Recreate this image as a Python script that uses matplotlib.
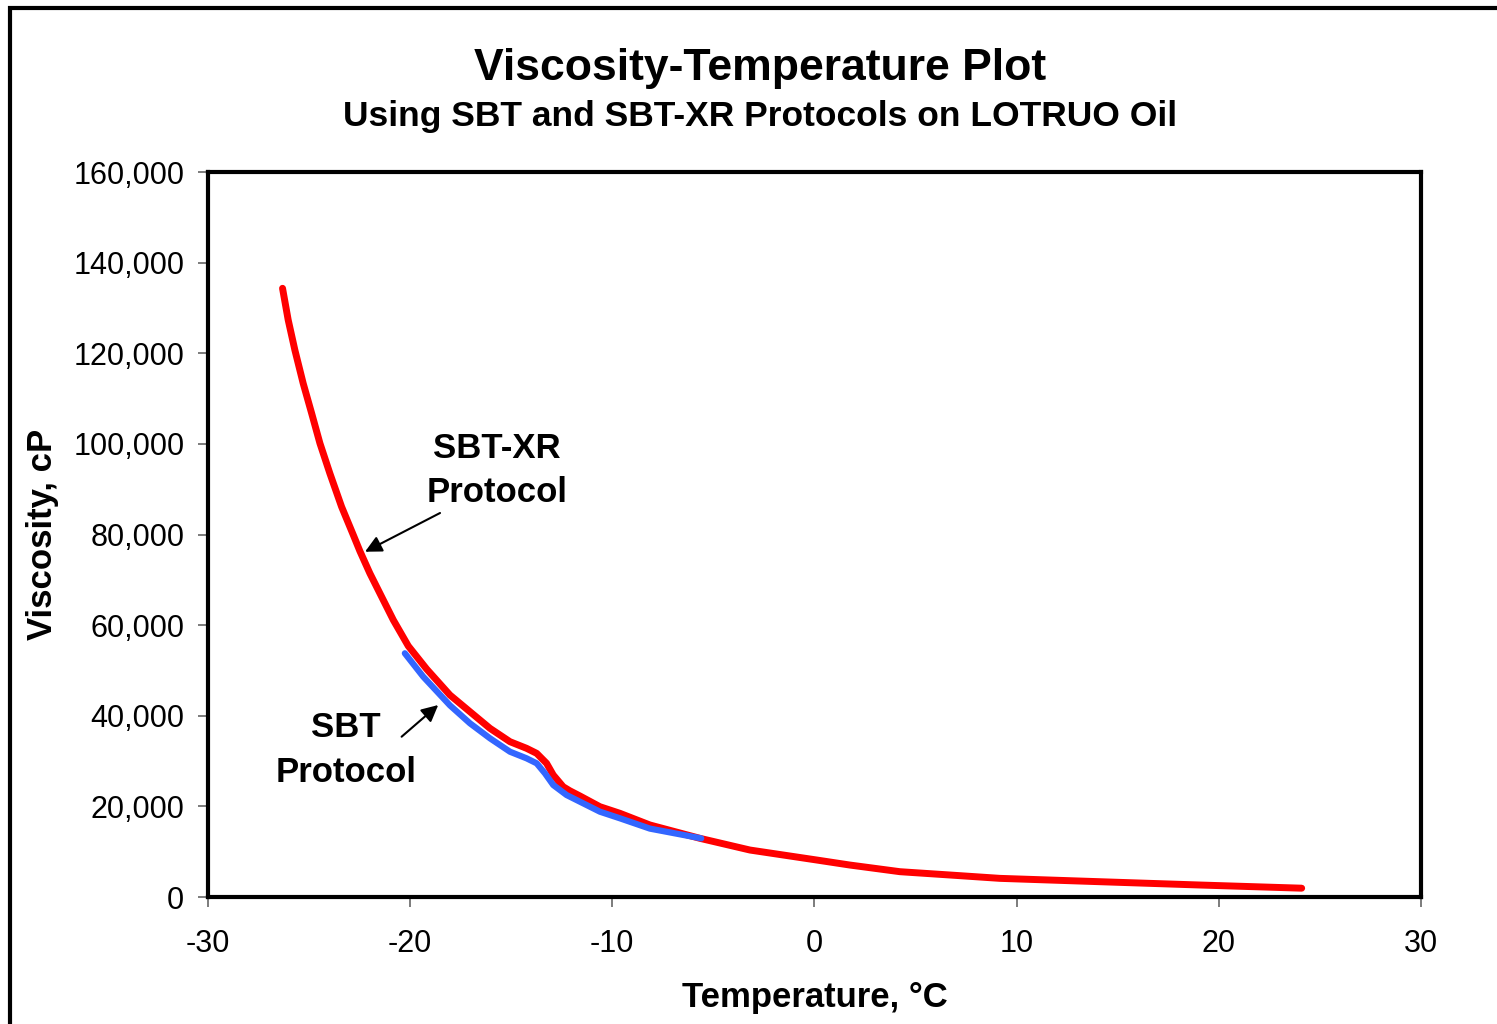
import matplotlib.pyplot as plt
from matplotlib.ticker import FuncFormatter
from matplotlib.lines import Line2D

plt.rcParams['font.family'] = ['Liberation Sans', 'DejaVu Sans']
plt.rcParams['axes.unicode_minus'] = False

# SBT-XR protocol curve (red)
xr_temp = [-26.31, -26.03, -25.70, -25.29, -24.87, -24.46, -23.97, -23.39, -22.81,
           -22.48, -21.99, -21.41, -20.83, -20.09, -19.18, -18.03, -17.04, -16.05,
           -15.06, -14.24, -13.74, -13.25, -12.92, -12.43, -12.1, -11.60, -10.61,
           -9.62, -8.14, -5.66, -3.19, 0.11, 1.75, 4.23, 6.70, 9.17, 14.12, 19.07,
           24.1]
xr_visc = [134340, 127350, 120720, 113380, 106750, 100130, 93510, 86140, 79900,
           76300, 71440, 66280, 61130, 55400, 50300, 44580, 40900, 37230,
           34280, 32820, 31710, 29510, 26930, 24340, 23450, 22300, 19930,
           18470, 15900, 12950, 10370, 8170, 7060, 5590, 4860, 4120, 3380, 2650,
           1950]

# SBT protocol curve (blue)
sbt_temp = [-20.26, -19.35, -18.03, -17.04, -16.05, -15.06, -14.24,
            -13.74, -13.33, -12.92, -12.26, -10.61, -9.62, -8.14, -5.6]
sbt_visc = [53790, 48620, 42300, 38340, 35030, 32070, 30610,
            29510, 27300, 24720, 22510, 18830, 17370, 15100, 12950]

x_ticks = [-30, -20, -10, 0, 10, 20, 30]
y_ticks = [0, 20000, 40000, 60000, 80000, 100000, 120000, 140000, 160000]

fig = plt.figure(figsize=(14.97, 10.24), dpi=100)
ax = fig.add_axes([0.1389, 0.124, 0.8103, 0.708])

ax.plot(xr_temp, xr_visc, color='#FF0000', lw=5, solid_capstyle='round',
        solid_joinstyle='round', zorder=2)
ax.plot(sbt_temp, sbt_visc, color='#3366FF', lw=4.5, solid_capstyle='round',
        solid_joinstyle='round', zorder=3)

ax.set_xlim(-30, 30)
ax.set_ylim(0, 160000)
ax.set_xticks(x_ticks)
ax.set_yticks(y_ticks)
ax.yaxis.set_major_formatter(FuncFormatter(lambda v, p: f"{int(v):,}"))
ax.tick_params(direction='out', length=7, width=1.2, color='#666666',
               labelsize=22, pad=10)
ax.tick_params(axis='x', pad=16)
for s in ax.spines.values():
    s.set_linewidth(3)

ax.set_xlabel('Temperature, °C', fontsize=25, fontweight='bold', labelpad=16)
ax.set_ylabel('Viscosity, cP', fontsize=25, fontweight='bold', labelpad=10)

# annotations
arrow = dict(arrowstyle='-|>', color='black', lw=1.5, mutation_scale=25,
             shrinkA=0, shrinkB=0)
ax.text(-15.7, 94130, 'SBT-XR\nProtocol', ha='center', va='center',
        fontsize=25, fontweight='bold', linespacing=1.46)
ax.annotate('', xy=(-22.23, 76200), xytext=(-18.52, 84750), arrowprops=arrow)
ax.text(-23.17, 32400, 'SBT\nProtocol', ha='center', va='center',
        fontsize=25, fontweight='bold', linespacing=1.46)
ax.annotate('', xy=(-18.61, 42370), xytext=(-20.42, 35380), arrowprops=arrow)

fig.text(0.508, 0.933, 'Viscosity-Temperature Plot', ha='center', va='center',
         fontsize=32, fontweight='bold')
fig.text(0.508, 0.886, 'Using SBT and SBT-XR Protocols on LOTRUO Oil',
         ha='center', va='center', fontsize=25.5, fontweight='bold')

# outer chart frame (cut off at right and bottom)
fx = 10 / 1497
fy = 1 - 7.5 / 1024
fig.add_artist(Line2D([fx, fx, 1.0], [0.0, fy, fy], transform=fig.transFigure,
                      color='black', lw=3, solid_joinstyle='miter'))

fig.savefig('out.png', dpi=100, facecolor='white')
